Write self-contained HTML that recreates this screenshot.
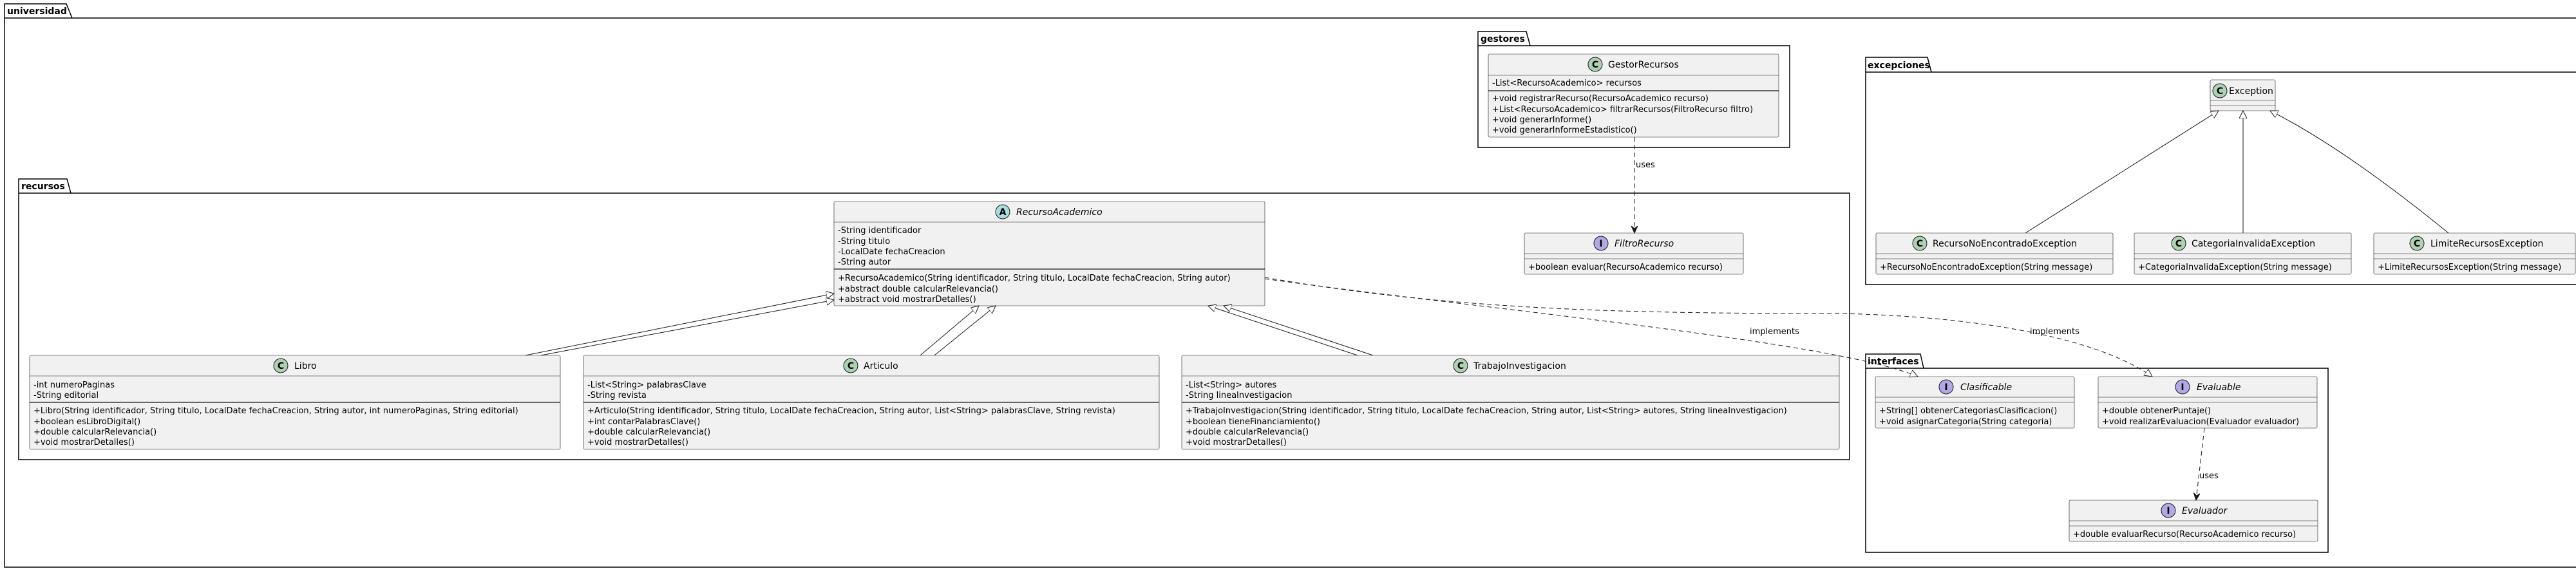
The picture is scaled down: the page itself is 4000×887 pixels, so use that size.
<!DOCTYPE html>
<html><head><meta charset="utf-8"><style>
html,body{margin:0;padding:0;background:#fff;width:4000px;height:887px;overflow:hidden}
svg{display:block}
text{font-family:"DejaVu Sans","Liberation Sans",sans-serif;fill:#000}
.m{font-size:13px}
.n{font-size:14px}
.i{font-style:italic}
.pk{font-size:14px;font-weight:bold}
.box{fill:#F1F1F1;stroke:#181818;stroke-width:0.6}
.sep{stroke:#181818;stroke-width:0.6}
.pkg{fill:none;stroke:#000;stroke-width:1.5}
.ln{stroke:#181818;stroke-width:1;fill:none}
.ds{stroke:#181818;stroke-width:1;fill:none;stroke-dasharray:7,5}
.ic{stroke:#181818;stroke-width:1}
.il{font-size:14px;font-weight:bold;text-anchor:middle}
</style></head><body>
<svg width="4000" height="887" viewBox="0 0 4000 887" xmlns="http://www.w3.org/2000/svg">
<defs>
<marker id="tri" markerUnits="userSpaceOnUse" markerWidth="14" markerHeight="14" refX="12" refY="6" orient="auto">
<path d="M0,0 L12,6 L0,12 Z" fill="#fff" stroke="#181818" stroke-width="1"/>
</marker>
<marker id="open" markerUnits="userSpaceOnUse" markerWidth="14" markerHeight="14" refX="11" refY="5" orient="auto">
<path d="M0,0 L11,5 L0,10 L4,5 Z" fill="#181818" stroke="#181818" stroke-width="1"/>
</marker>
</defs>

<!-- universidad -->
<path class="pkg" d="M7,28 L7,6 L103,6 L112,28 M7,28 L4010,28 M7,28 L7,881 L4010,881"/>
<text class="pk" x="11" y="22">universidad</text>

<!-- gestores -->
<path class="pkg" d="M2295,71 L2295,49 L2370,49 L2376,71 M2295,71 L2779,71 L2779,229 L2295,229 Z"/>
<text class="pk" x="2299" y="65">gestores</text>

<!-- excepciones -->
<path class="pkg" d="M2897,112 L2897,89 L2993,89 L2999,112 M2897,112 L4010,112 M2897,112 L2897,442 L4010,442"/>
<text class="pk" x="2900" y="106">excepciones</text>

<!-- recursos -->
<path class="pkg" d="M29,300 L29,278 L104,278 L110,300 M29,300 L2872,300 L2872,714 L29,714 Z"/>
<text class="pk" x="33" y="294">recursos</text>

<!-- interfaces -->
<path class="pkg" d="M2897,572 L2897,550 L2982,550 L2987,572 M2897,572 L3615,572 L3615,858 L2897,858 Z"/>
<text class="pk" x="2900" y="566">interfaces</text>

<!-- GestorRecursos -->
<rect class="box" x="2311" y="84" width="451" height="129" rx="2"/>
<line class="sep" x1="2311" y1="117" x2="2762" y2="117"/>
<line x1="2311" y1="141" x2="2762" y2="141" stroke="#181818" stroke-width="1.2"/>
<circle class="ic" cx="2477" cy="100" r="11" fill="#ADD1B2"/><text class="il" x="2477" y="105">C</text>
<text class="n" x="2497" y="105">GestorRecursos</text>
<text class="m" x="2317" y="133">-List&lt;RecursoAcademico&gt; recursos</text>
<text class="m" x="2317" y="157">+void registrarRecurso(RecursoAcademico recurso)</text>
<text class="m" x="2317" y="174">+List&lt;RecursoAcademico&gt; filtrarRecursos(FiltroRecurso filtro)</text>
<text class="m" x="2317" y="190">+void generarInforme()</text>
<text class="m" x="2317" y="206">+void generarInformeEstadistico()</text>

<!-- FiltroRecurso -->
<rect class="box" x="2367" y="362" width="340" height="64" rx="2"/>
<line class="sep" x1="2367" y1="394" x2="2707" y2="394"/>
<line class="sep" x1="2367" y1="402" x2="2707" y2="402"/>
<circle class="ic" cx="2486" cy="378" r="11" fill="#B4A7E5"/><text class="il" x="2486" y="383">I</text>
<text class="n i" x="2507" y="383">FiltroRecurso</text>
<text class="m" x="2373" y="419">+boolean evaluar(RecursoAcademico recurso)</text>

<!-- RecursoAcademico -->
<rect class="box" x="1295" y="313" width="669" height="162" rx="2"/>
<line class="sep" x1="1295" y1="345" x2="1964" y2="345"/>
<line x1="1295" y1="418" x2="1964" y2="418" stroke="#181818" stroke-width="1.2"/>
<circle class="ic" cx="1557" cy="329" r="11" fill="#A9DCDF"/><text class="il" x="1557" y="334">A</text>
<text class="n i" x="1578" y="334">RecursoAcademico</text>
<text class="m" x="1301" y="362">-String identificador</text>
<text class="m" x="1301" y="379">-String titulo</text>
<text class="m" x="1301" y="395">-LocalDate fechaCreacion</text>
<text class="m" x="1301" y="411">-String autor</text>
<text class="m" x="1301" y="436">+RecursoAcademico(String identificador, String titulo, LocalDate fechaCreacion, String autor)</text>
<text class="m" x="1301" y="453">+abstract double calcularRelevancia()</text>
<text class="m" x="1301" y="469">+abstract void mostrarDetalles()</text>

<!-- Libro -->
<rect class="box" x="46" y="552" width="824" height="146" rx="2"/>
<line class="sep" x1="46" y1="584" x2="870" y2="584"/>
<line x1="46" y1="625" x2="870" y2="625" stroke="#181818" stroke-width="1.2"/>
<circle class="ic" cx="436" cy="568" r="11" fill="#ADD1B2"/><text class="il" x="436" y="573">C</text>
<text class="n" x="457" y="573">Libro</text>
<text class="m" x="52" y="602">-int numeroPaginas</text>
<text class="m" x="52" y="618">-String editorial</text>
<text class="m" x="52" y="642">+Libro(String identificador, String titulo, LocalDate fechaCreacion, String autor, int numeroPaginas, String editorial)</text>
<text class="m" x="52" y="659">+boolean esLibroDigital()</text>
<text class="m" x="52" y="675">+double calcularRelevancia()</text>
<text class="m" x="52" y="691">+void mostrarDetalles()</text>

<!-- Articulo -->
<rect class="box" x="906" y="552" width="894" height="146" rx="2"/>
<line class="sep" x1="906" y1="584" x2="1800" y2="584"/>
<line x1="906" y1="625" x2="1800" y2="625" stroke="#181818" stroke-width="1.2"/>
<circle class="ic" cx="1321" cy="568" r="11" fill="#ADD1B2"/><text class="il" x="1321" y="573">C</text>
<text class="n" x="1341" y="573">Articulo</text>
<text class="m" x="912" y="602">-List&lt;String&gt; palabrasClave</text>
<text class="m" x="912" y="618">-String revista</text>
<text class="m" x="912" y="642">+Articulo(String identificador, String titulo, LocalDate fechaCreacion, String autor, List&lt;String&gt; palabrasClave, String revista)</text>
<text class="m" x="912" y="659">+int contarPalabrasClave()</text>
<text class="m" x="912" y="675">+double calcularRelevancia()</text>
<text class="m" x="912" y="691">+void mostrarDetalles()</text>

<!-- TrabajoInvestigacion -->
<rect class="box" x="1835" y="552" width="1021" height="146" rx="2"/>
<line class="sep" x1="1835" y1="584" x2="2856" y2="584"/>
<line x1="1835" y1="625" x2="2856" y2="625" stroke="#181818" stroke-width="1.2"/>
<circle class="ic" cx="2268" cy="568" r="11" fill="#ADD1B2"/><text class="il" x="2268" y="573">C</text>
<text class="n" x="2288" y="573">TrabajoInvestigacion</text>
<text class="m" x="1841" y="602">-List&lt;String&gt; autores</text>
<text class="m" x="1841" y="618">-String lineaInvestigacion</text>
<text class="m" x="1841" y="642">+TrabajoInvestigacion(String identificador, String titulo, LocalDate fechaCreacion, String autor, List&lt;String&gt; autores, String lineaInvestigacion)</text>
<text class="m" x="1841" y="659">+boolean tieneFinanciamiento()</text>
<text class="m" x="1841" y="675">+double calcularRelevancia()</text>
<text class="m" x="1841" y="691">+void mostrarDetalles()</text>

<!-- Exception -->
<rect class="box" x="3432" y="124" width="101" height="48" rx="2"/>
<line class="sep" x1="3432" y1="156" x2="3533" y2="156"/>
<line class="sep" x1="3432" y1="164" x2="3533" y2="164"/>
<circle class="ic" cx="3447" cy="141" r="11" fill="#ADD1B2"/><text class="il" x="3447" y="146">C</text>
<text class="n" x="3461" y="146">Exception</text>

<!-- RecursoNoEncontradoException -->
<rect class="box" x="2913" y="362" width="368" height="64" rx="2"/>
<line class="sep" x1="2913" y1="394" x2="3281" y2="394"/>
<line class="sep" x1="2913" y1="402" x2="3281" y2="402"/>
<circle class="ic" cx="2981" cy="378" r="11" fill="#ADD1B2"/><text class="il" x="2981" y="383">C</text>
<text class="n" x="3001" y="383">RecursoNoEncontradoException</text>
<text class="m" x="2919" y="419">+RecursoNoEncontradoException(String message)</text>

<!-- CategoriaInvalidaException -->
<rect class="box" x="3314" y="362" width="337" height="64" rx="2"/>
<line class="sep" x1="3314" y1="394" x2="3651" y2="394"/>
<line class="sep" x1="3314" y1="402" x2="3651" y2="402"/>
<circle class="ic" cx="3383" cy="378" r="11" fill="#ADD1B2"/><text class="il" x="3383" y="383">C</text>
<text class="n" x="3403" y="383">CategoriaInvalidaException</text>
<text class="m" x="3320" y="419">+CategoriaInvalidaException(String message)</text>

<!-- LimiteRecursosException -->
<rect class="box" x="3686" y="362" width="313" height="64" rx="2"/>
<line class="sep" x1="3686" y1="394" x2="3999" y2="394"/>
<line class="sep" x1="3686" y1="402" x2="3999" y2="402"/>
<circle class="ic" cx="3753" cy="378" r="11" fill="#ADD1B2"/><text class="il" x="3753" y="383">C</text>
<text class="n" x="3774" y="383">LimiteRecursosException</text>
<text class="m" x="3692" y="419">+LimiteRecursosException(String message)</text>

<!-- Clasificable -->
<rect class="box" x="2912" y="585" width="309" height="80" rx="2"/>
<line class="sep" x1="2912" y1="617" x2="3221" y2="617"/>
<line class="sep" x1="2912" y1="625" x2="3221" y2="625"/>
<circle class="ic" cx="3022" cy="601" r="11" fill="#B4A7E5"/><text class="il" x="3022" y="606">I</text>
<text class="n i" x="3044" y="606">Clasificable</text>
<text class="m" x="2918" y="642">+String[] obtenerCategoriasClasificacion()</text>
<text class="m" x="2918" y="659">+void asignarCategoria(String categoria)</text>

<!-- Evaluable -->
<rect class="box" x="3258" y="585" width="340" height="80" rx="2"/>
<line class="sep" x1="3258" y1="617" x2="3598" y2="617"/>
<line class="sep" x1="3258" y1="625" x2="3598" y2="625"/>
<circle class="ic" cx="3389" cy="601" r="11" fill="#B4A7E5"/><text class="il" x="3389" y="606">I</text>
<text class="n i" x="3411" y="606">Evaluable</text>
<text class="m" x="3264" y="642">+double obtenerPuntaje()</text>
<text class="m" x="3264" y="659">+void realizarEvaluacion(Evaluador evaluador)</text>

<!-- Evaluador -->
<rect class="box" x="3213" y="777" width="386" height="64" rx="2"/>
<line class="sep" x1="3213" y1="809" x2="3599" y2="809"/>
<line class="sep" x1="3213" y1="817" x2="3599" y2="817"/>
<circle class="ic" cx="3367" cy="793" r="11" fill="#B4A7E5"/><text class="il" x="3367" y="798">I</text>
<text class="n i" x="3388" y="798">Evaluador</text>
<text class="m" x="3219" y="834">+double evaluarRecurso(RecursoAcademico recurso)</text>

<!-- generalizations -->
<line class="ln" x1="816" y1="552" x2="1295" y2="456" marker-end="url(#tri)"/>
<line class="ln" x1="840" y1="552" x2="1295" y2="466" marker-end="url(#tri)"/>
<line class="ln" x1="1429" y1="552" x2="1520" y2="475" marker-end="url(#tri)"/>
<line class="ln" x1="1451" y1="552" x2="1546" y2="475" marker-end="url(#tri)"/>
<line class="ln" x1="2108" y1="552" x2="1876" y2="475" marker-end="url(#tri)"/>
<line class="ln" x1="2132" y1="552" x2="1900" y2="475" marker-end="url(#tri)"/>
<line class="ln" x1="3145" y1="362" x2="3445" y2="172" marker-end="url(#tri)"/>
<line class="ln" x1="3483" y1="362" x2="3483" y2="172" marker-end="url(#tri)"/>
<path class="ln" d="M3802,362 Q3640,230 3525,172" marker-end="url(#tri)"/>

<!-- implements -->
<path class="ds" d="M1964,433 C2300,480 2850,530 2978,585" marker-end="url(#tri)"/>
<path class="ds" d="M1964,431 C2250,480 2500,487 2850,487 C3050,490 3250,520 3342,585" marker-end="url(#tri)"/>
<text class="m" x="2717" y="519">implements</text>
<text class="m" x="3152" y="519">implements</text>

<!-- uses -->
<line class="ds" x1="2538" y1="213" x2="2538" y2="362" marker-end="url(#open)"/>
<text class="m" x="2540" y="260">uses</text>
<line class="ds" x1="3423" y1="665" x2="3410" y2="777" marker-end="url(#open)"/>
<text class="m" x="3415" y="743">uses</text>
</svg>
</body></html>
